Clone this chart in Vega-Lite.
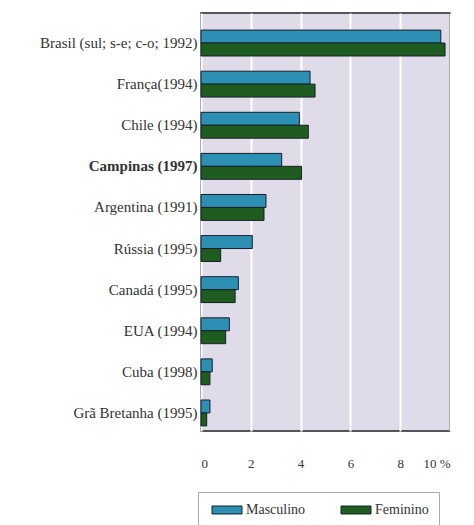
{
  "$schema": "https://vega.github.io/schema/vega-lite/v6.json",
  "autosize": {"type": "none"},
  "padding": {"left": 201, "top": 13, "right": 24, "bottom": 94},
  "width": 249,
  "height": 418,
  "background": "white",
  "config": {
    "view": {"fill": "#e0dbe9", "stroke": "#222", "strokeWidth": 1.5},
    "font": "Liberation Serif",
    "axis": {"labelFont": "Liberation Serif"},
    "legend": {"labelFont": "Liberation Serif"}
  },
  "data": {
    "values": [
      {"pais": "Brasil (sul; s-e; c-o; 1992)", "sexo": "Masculino", "valor": 9.63},
      {"pais": "Brasil (sul; s-e; c-o; 1992)", "sexo": "Feminino", "valor": 9.8},
      {"pais": "França(1994)", "sexo": "Masculino", "valor": 4.38},
      {"pais": "França(1994)", "sexo": "Feminino", "valor": 4.58},
      {"pais": "Chile (1994)", "sexo": "Masculino", "valor": 3.95},
      {"pais": "Chile (1994)", "sexo": "Feminino", "valor": 4.31},
      {"pais": "Campinas (1997)", "sexo": "Masculino", "valor": 3.24},
      {"pais": "Campinas (1997)", "sexo": "Feminino", "valor": 4.04},
      {"pais": "Argentina (1991)", "sexo": "Masculino", "valor": 2.61},
      {"pais": "Argentina (1991)", "sexo": "Feminino", "valor": 2.53},
      {"pais": "Rússia (1995)", "sexo": "Masculino", "valor": 2.06},
      {"pais": "Rússia (1995)", "sexo": "Feminino", "valor": 0.79},
      {"pais": "Canadá (1995)", "sexo": "Masculino", "valor": 1.5},
      {"pais": "Canadá (1995)", "sexo": "Feminino", "valor": 1.37},
      {"pais": "EUA (1994)", "sexo": "Masculino", "valor": 1.14},
      {"pais": "EUA (1994)", "sexo": "Feminino", "valor": 0.99},
      {"pais": "Cuba (1998)", "sexo": "Masculino", "valor": 0.45},
      {"pais": "Cuba (1998)", "sexo": "Feminino", "valor": 0.36},
      {"pais": "Grã Bretanha (1995)", "sexo": "Masculino", "valor": 0.36},
      {"pais": "Grã Bretanha (1995)", "sexo": "Feminino", "valor": 0.23}
    ]
  },
  "mark": {"type": "bar", "stroke": "#14202a", "strokeWidth": 1},
  "encoding": {
    "y": {
      "field": "pais",
      "type": "nominal",
      "sort": null,
      "scale": {"paddingInner": 0.37, "paddingOuter": 0.27, "align": 0.77},
      "axis": {
        "title": null,
        "ticks": false,
        "domain": false,
        "labelPadding": 4,
        "labelFontSize": 15,
        "labelColor": "#333",
        "labelFontWeight": {"condition": {"test": "datum.value == 'Campinas (1997)'", "value": "bold"}, "value": "normal"}
      }
    },
    "yOffset": {"field": "sexo", "type": "nominal", "sort": ["Masculino", "Feminino"], "scale": {"paddingInner": 0, "paddingOuter": 0}},
    "x": {
      "field": "valor",
      "type": "quantitative",
      "scale": {"domain": [0, 10], "nice": false},
      "axis": {
        "title": null,
        "values": [0, 2, 4, 6, 8, 10],
        "ticks": false,
        "domain": false,
        "grid": true,
        "gridColor": "white",
        "gridWidth": 2,
        "gridOpacity": 1,
        "labelPadding": 26,
        "labelFontSize": 13,
        "labelColor": "#333",
        "labelExpr": "datum.value == 10 ? '10 %' : datum.label"
      }
    },
    "color": {
      "field": "sexo",
      "type": "nominal",
      "scale": {"domain": ["Masculino", "Feminino"], "range": ["#2e8fb4", "#1f5c1f"]},
      "legend": {
        "title": null,
        "orient": "none",
        "legendX": -3,
        "legendY": 479,
        "direction": "horizontal",
        "strokeColor": "#aaa",
        "fillColor": "white",
        "padding": 10,
        "columnPadding": 31,
        "symbolType": "M-2,-0.53H2V0.53H-2Z",
        "symbolSize": 225,
        "symbolOffset": 11,
        "symbolStrokeColor": "#14202a",
        "symbolStrokeWidth": 1,
        "symbolOpacity": 1,
        "labelFontSize": 14,
        "labelColor": "#333",
        "labelOffset": 11
      }
    }
  }
}
